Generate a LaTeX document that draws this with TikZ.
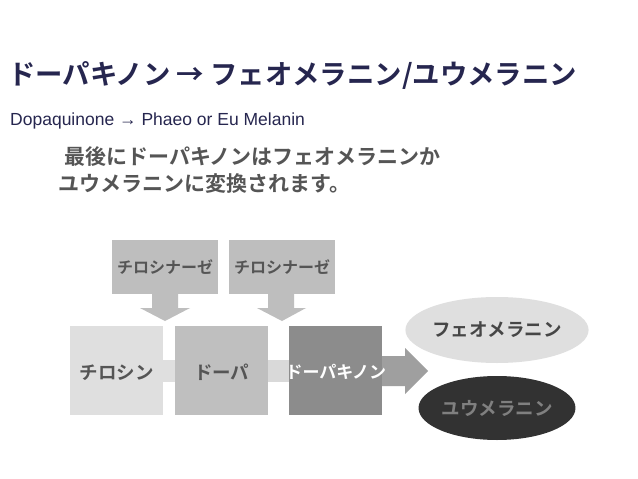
\documentclass[tikz,border=0pt]{standalone}
\usepackage{fontspec}
\usetikzlibrary{shapes.geometric}
\newfontfamily\jp{Noto Sans CJK JP}[BoldFont={Noto Sans CJK JP Bold}]
\setmainfont{Liberation Sans}
\definecolor{navy}{HTML}{26264F}
\definecolor{bodyg}{HTML}{555555}
\definecolor{enzc}{RGB}{190,190,190}
\definecolor{dqc}{RGB}{140,140,140}
\definecolor{phtext}{RGB}{70,70,70}
\definecolor{euc}{RGB}{50,50,50}
\tikzset{
 lbl/.style={font=\jp\bfseries\fontsize{18.5}{18.5}\selectfont, text=bodyg},
 box/.style={draw=none, minimum width=93pt, minimum height=89pt, anchor=north west},
 enz/.style={fill=enzc, minimum width=106pt, minimum height=54pt, anchor=north west, text=bodyg, font=\jp\bfseries\fontsize{16}{16}\selectfont},
}
\begin{document}
\begin{tikzpicture}[x=1pt,y=-1pt]
\useasboundingbox (0,0) rectangle (638,479);
\fill[white] (0,0) rectangle (638,479);
\node[anchor=west, text=navy, font=\jp\bfseries\fontsize{27.4}{27.4}\selectfont, inner sep=0] (title) at (8,75) {ドーパキノン → フェオメラニン/ユウメラニン};
\node[anchor=west, text=navy, font=\fontsize{17.5}{17.5}\selectfont, inner sep=0, xscale=1] (sub) at (10,121) {Dopaquinone → Phaeo or Eu Melanin};
\node[anchor=north west, text=bodyg, font=\jp\bfseries\fontsize{21}{27}\selectfont, align=left, inner sep=0] (body) at (58,146) {\hspace{0.3em}最後にドーパキノンはフェオメラニンか\\ユウメラニンに変換されます。};
\fill[gray!25] (163,360) rectangle (175,382);
\fill[gray!30] (268,360) rectangle (289,382);
\node[box, fill=gray!25] (tyr) at (70,326) {};
\node[box, fill=gray!50] (dopa) at (175,326) {};
\node[box, fill=dqc] (dq) at (289,326) {};
\fill[gray!75] (382,356) -- (405,356) -- (405,348) -- (428,371) -- (405,394) -- (405,386) -- (382,386) -- cycle;
\node[lbl] at (tyr.center) [yshift=-2pt] {チロシン};
\node[lbl] at (dopa.center) [yshift=-2pt] {ドーパ};
\node[lbl, text=white, anchor=west, font=\jp\bfseries\fontsize{17}{17}\selectfont] (dql) at (282,372) {ドーパキノン};
\node[enz] (e1) at (112,240) {チロシナーゼ};
\node[enz] (e2) at (229,240) {チロシナーゼ};
\fill[enzc] (152,294) -- (178,294) -- (178,308) -- (190,308) -- (165,321) -- (140,308) -- (152,308) -- cycle;
\fill[enzc] (268,294) -- (294,294) -- (294,308) -- (306,308) -- (282,321) -- (257,308) -- (268,308) -- cycle;
\node[ellipse, fill=gray!25, minimum width=134pt, minimum height=66pt, inner sep=0, lbl, text=phtext] (ph) at (497,330) {フェオメラニン};
\node[ellipse, fill=euc, minimum width=136pt, minimum height=64pt, inner sep=0, lbl, text=gray] (eu) at (497,408) {ユウメラニン};
\end{tikzpicture}
\end{document}
